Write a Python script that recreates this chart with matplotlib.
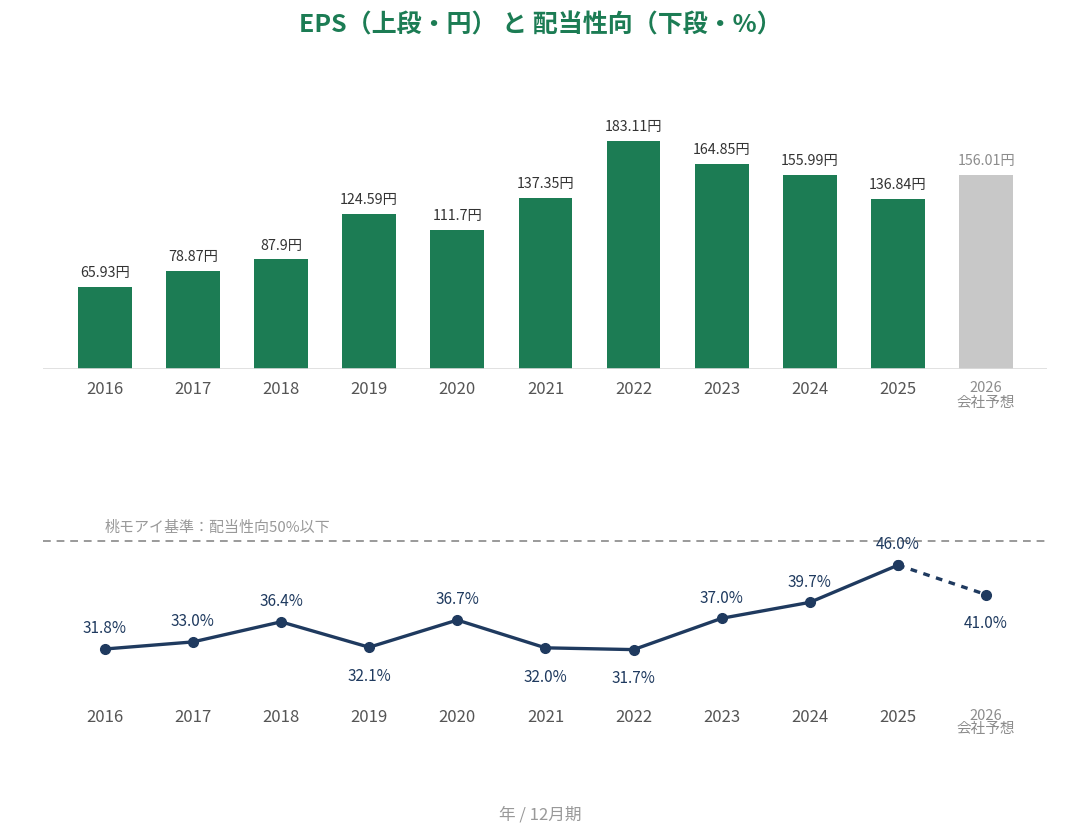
import matplotlib
matplotlib.use("Agg")
import matplotlib.pyplot as plt

plt.rcParams['font.family'] = ['Noto Sans CJK JP', 'DejaVu Sans']

years = ['2016', '2017', '2018', '2019', '2020', '2021', '2022', '2023', '2024', '2025', '2026']
eps = [65.93, 78.87, 87.9, 124.59, 111.7, 137.35, 183.11, 164.85, 155.99, 136.84, 156.01]
eps_labels = ['65.93円', '78.87円', '87.9円', '124.59円', '111.7円', '137.35円',
              '183.11円', '164.85円', '155.99円', '136.84円', '156.01円']
payout = [31.8, 33.0, 36.4, 32.1, 36.7, 32.0, 31.7, 37.0, 39.7, 46.0, 41.0]
payout_above = [True, True, True, False, True, False, False, True, True, True, False]
threshold = 50

GREEN = '#1c7c54'
GRAY_BAR = '#c8c8c8'
NAVY = '#1f3a5f'
TICK = '#555555'
FAINT = '#8c8c8c'

fig = plt.figure(figsize=(10.8, 8.4), dpi=100)
x = list(range(len(years)))

# top: EPS bars
ax1 = fig.add_axes([43 / 1080, 1 - 369 / 840, (1047 - 43) / 1080, 309 / 840])
colors = [GREEN] * (len(years) - 1) + [GRAY_BAR]
ax1.bar(x, eps, width=0.61, color=colors, zorder=2)
for i, (v, lab) in enumerate(zip(eps, eps_labels)):
    c = '#333333' if i < len(years) - 1 else FAINT
    ax1.annotate(lab, (i, v), xytext=(0, 10), textcoords='offset points',
                 ha='center', va='center', fontsize=10.3, color=c)
ax1.set_xlim(-0.70, 10.69)
ax1.set_ylim(0, 248)
ax1.axhline(0, color='#dcdcdc', lw=1.2, zorder=3)

# bottom: payout ratio
ax2 = fig.add_axes([43 / 1080, 1 - 696 / 840, (1047 - 43) / 1080, 190 / 840])
ax2.plot(x[:-1], payout[:-1], color=NAVY, lw=2.4, marker='o', ms=7, zorder=3)
ax2.plot(x[-2:], payout[-2:], color=NAVY, lw=2.4, ls=(0, (2, 2)), marker='o', ms=7, zorder=3)
ax2.axhline(threshold, color='#9a9a9a', lw=1.4, ls=(0, (4, 3)), zorder=1)
ax2.text(0, threshold + 2.3, '桃モアイ基準：配当性向50%以下', ha='left', va='center',
         fontsize=10.8, color='#999999')
for i, (v, up) in enumerate(zip(payout, payout_above)):
    off = 14.5 if up else -21
    ax2.annotate(f'{v:.1f}%', (i, v), xytext=(0, off), textcoords='offset points',
                 ha='center', va='center', fontsize=11, color=NAVY)
ax2.set_xlim(-0.70, 10.69)
ax2.set_ylim(23.85, 56)

for ax in (ax1, ax2):
    for s in ax.spines.values():
        s.set_visible(False)
    ax.set_yticks([])
    ax.set_xticks(x)
    ax.set_xticklabels(years[:-1] + ['2026\n会社予想'])
    ax.tick_params(axis='x', length=0, pad=9, labelsize=12, labelcolor=TICK)
    lbl = ax.get_xticklabels()[-1]
    lbl.set_color(FAINT)
    lbl.set_fontsize(10.5)
    lbl.set_linespacing(1.0)
    lbl.set_va('top')

fig.text(0.5, 1 - 25 / 840, 'EPS（上段・円） と 配当性向（下段・%）', ha='center', va='center',
         fontsize=18, fontweight='bold', color=GREEN)
fig.text(0.5, 1 - 815 / 840, '年 / 12月期', ha='center', va='center',
         fontsize=12, color='#999999')

fig.savefig('out.png', dpi=100, facecolor='white')
